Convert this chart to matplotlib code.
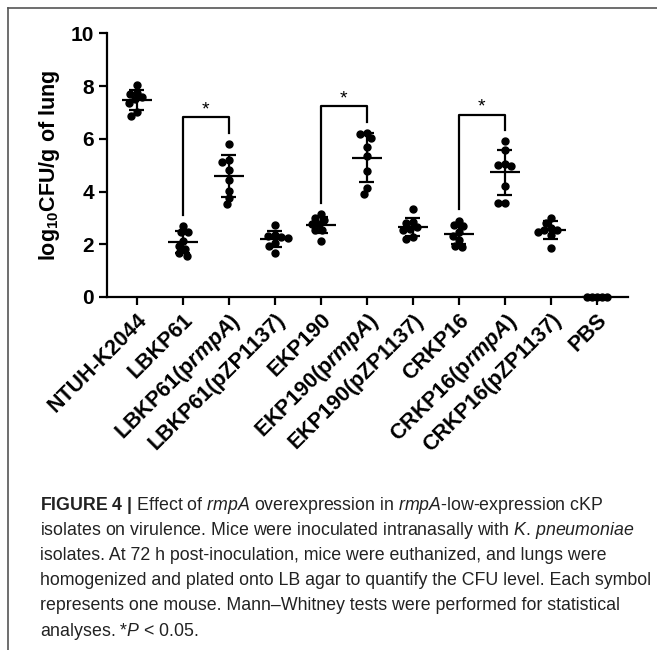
import numpy as np
import matplotlib.pyplot as plt
from matplotlib.lines import Line2D

plt.rcParams['font.family'] = 'Liberation Sans'
plt.rcParams['mathtext.fontset'] = 'custom'
plt.rcParams['mathtext.rm'] = 'Liberation Sans:bold'
plt.rcParams['mathtext.bf'] = 'Liberation Sans:bold'
plt.rcParams['mathtext.it'] = 'Liberation Sans:italic'
plt.rcParams['mathtext.bfit'] = 'Liberation Sans:italic:bold'

# ------------------------------
# DATA (log10 CFU/g of lung, one value per mouse)
# ------------------------------
groups = ["NTUH-K2044", "LBKP61", r"LBKP61(p$\mathbfit{rmpA}$)", "LBKP61(pZP1137)",
          "EKP190", r"EKP190(p$\mathbfit{rmpA}$)", "EKP190(pZP1137)",
          "CRKP16", r"CRKP16(p$\mathbfit{rmpA}$)", "CRKP16(pZP1137)", "PBS"]

ntuh_k2044 = [8.03, 7.74, 7.70, 7.57, 7.50, 7.36, 7.00, 6.85]
lbkp61 = [2.70, 2.46, 2.46, 2.14, 1.94, 1.81, 1.68, 1.57]
lbkp61_rmpa = [5.81, 5.20, 5.13, 4.82, 4.44, 4.03, 3.77, 3.53]
lbkp61_pzp = [2.73, 2.34, 2.30, 2.27, 2.22, 2.06, 1.95, 1.68]
ekp190 = [3.14, 2.99, 2.92, 2.77, 2.77, 2.54, 2.54, 2.14]
ekp190_rmpa = [6.22, 6.18, 6.03, 5.67, 5.36, 4.76, 4.13, 3.90]
ekp190_pzp = [3.33, 2.86, 2.80, 2.65, 2.57, 2.54, 2.29, 2.20]
crkp16 = [2.90, 2.73, 2.70, 2.48, 2.33, 2.16, 1.94, 1.91]
crkp16_rmpa = [5.90, 5.56, 5.05, 4.99, 4.95, 4.22, 3.56, 3.56]
crkp16_pzp = [3.01, 2.82, 2.63, 2.54, 2.54, 2.46, 2.35, 1.85]
pbs = [0, 0, 0, 0, 0]

values = [ntuh_k2044, lbkp61, lbkp61_rmpa, lbkp61_pzp, ekp190, ekp190_rmpa,
          ekp190_pzp, crkp16, crkp16_rmpa, crkp16_pzp, pbs]

# Mann-Whitney pairs marked with *
sig_pairs = [(1, 2), (4, 5), (7, 8)]

caption = [
    r"$\mathbf{FIGURE\ 4\ |}$ Effect of $\mathit{rmpA}$ overexpression in $\mathit{rmpA}$-low-expression cKP",
    r"isolates on virulence. Mice were inoculated intranasally with $\mathit{K}$. $\mathit{pneumoniae}$",
    "isolates. At 72 h post-inoculation, mice were euthanized, and lungs were",
    "homogenized and plated onto LB agar to quantify the CFU level. Each symbol",
    "represents one mouse. Mann\u2013Whitney tests were performed for statistical",
    r"analyses. *$\mathit{P}$ < 0.05.",
]


# ------------------------------
# SWARM OFFSETS (deterministic, no overlap in pixel space)
# ------------------------------
def swarm(vals, px_x=46.0, px_y=26.3, d=6.6):
    vals = np.asarray(vals, dtype=float)
    offs = np.zeros(len(vals))
    placed = []
    for i in np.argsort(-vals, kind="stable"):
        y = vals[i] * px_y
        for step in range(0, 60):
            cands = [0.0] if step == 0 else [-step * 0.5, step * 0.5]
            ok = None
            for x in cands:
                if all((x - px) ** 2 + (y - py) ** 2 >= d * d for px, py in placed):
                    ok = x
                    break
            if ok is not None:
                break
        placed.append((ok, y))
        offs[i] = ok / px_x
    return offs


fig = plt.figure(figsize=(6.57, 6.5), dpi=100)
ax = fig.add_axes([0.1624, 0.5431, 0.7935, 0.4057])

for i, v in enumerate(values):
    v = np.asarray(v, dtype=float)
    d = 4.6 if np.ptp(v) == 0 else 6.6
    ax.plot(i + swarm(v, d=d), v, 'o', color='black', ms=5, clip_on=False, zorder=3)
    m = v.mean()
    s = v.std(ddof=1) if len(v) > 1 else 0
    ax.hlines(m, i - 0.33, i + 0.33, color='black', lw=1.6, zorder=4)
    ax.vlines(i, m - s, m + s, color='black', lw=1.6, zorder=4)
    ax.hlines([m - s, m + s], i - 0.16, i + 0.16, color='black', lw=1.6, zorder=4)

# significance brackets
for a, b in sig_pairs:
    ya = max(values[a]) + 0.42
    yb = max(values[b]) + 0.42
    top = max(ya, yb) + 0.6
    ax.plot([a, a, b, b], [ya, top, top, yb], color='black', lw=1.6)
    ax.text((a + b) / 2, top - 0.05, '*', ha='center', va='bottom', fontsize=14)

ax.set_xlim(-0.652, 10.68)
ax.set_ylim(0, 10)
ax.set_yticks(range(0, 11, 2))
ax.set_xticks(range(len(groups)))
ax.set_xticklabels(groups, rotation=45, ha='right', rotation_mode='anchor',
                   fontweight='bold', fontsize=15.5)
for lab in ax.get_yticklabels():
    lab.set_fontweight('bold')
    lab.set_fontsize(15)
ax.set_ylabel(r"log$_{10}$CFU/g of lung", fontweight='bold', fontsize=15.5, labelpad=6)
ax.spines['top'].set_visible(False)
ax.spines['right'].set_visible(False)
for sp in ['left', 'bottom']:
    ax.spines[sp].set_linewidth(1.6)
ax.tick_params(width=1.6, length=6, pad=3)

# frame of the figure panel
fig.add_artist(Line2D([8 / 657, 1], [1 - 8 / 650, 1 - 8 / 650], transform=fig.transFigure,
                      color='#555555', lw=1.2))
fig.add_artist(Line2D([8 / 657, 8 / 657], [0, 1 - 8 / 650], transform=fig.transFigure,
                      color='#555555', lw=1.2))

# caption, sized so the longest line spans the panel width
texts = []
for k, line in enumerate(caption):
    y = 1 - (505 + 25.2 * k) / 650
    texts.append(fig.text(40 / 657, y, line, ha='left', va='center', fontsize=11,
                          color='#222222'))
r = fig.canvas.get_renderer()
w = texts[3].get_window_extent(r).width
fs = 11 * 608 / w
for t in texts:
    t.set_fontsize(fs)

fig.savefig("out.png", dpi=100)
